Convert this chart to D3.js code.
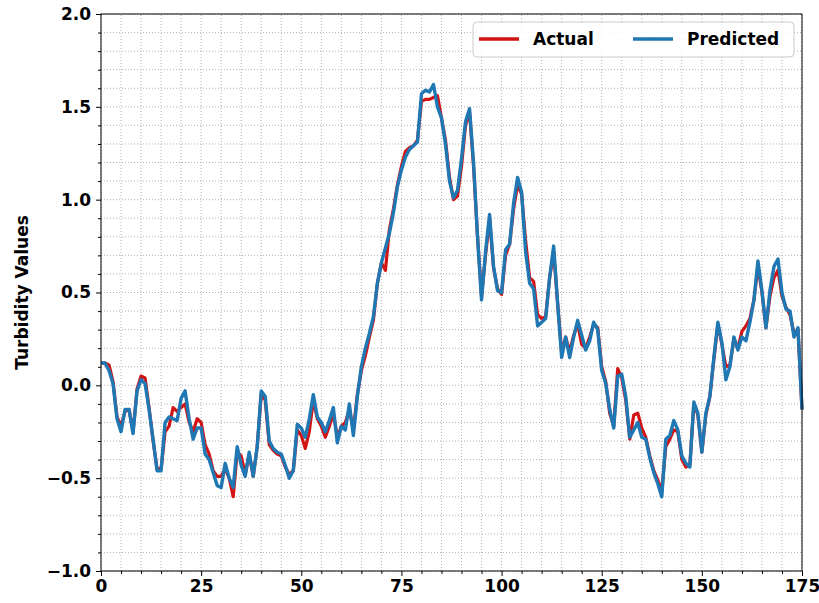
<!DOCTYPE html>
<html>
<head>
<meta charset="utf-8">
<script src="https://cdn.jsdelivr.net/npm/d3@7"></script>
<style>
  html, body { margin: 0; padding: 0; background: #fff; }
  svg { display: block; }
  text { font-family: "DejaVu Sans", sans-serif; font-weight: bold; }
</style>
</head>
<body>
<svg id="chart" width="819" height="603"></svg>
<script>
// Turbidity series: observed values and model predictions, one per time step (0..175)
const actual = [
  0.12, 0.12, 0.11, 0.02, -0.17, -0.22, -0.14, -0.13, -0.25, -0.02,
  0.05, 0.04, -0.12, -0.30, -0.45, -0.45, -0.25, -0.22, -0.12, -0.14,
  -0.12, -0.10, -0.20, -0.25, -0.18, -0.20, -0.32, -0.37, -0.46, -0.49,
  -0.49, -0.45, -0.50, -0.60, -0.36, -0.38, -0.48, -0.37, -0.49, -0.33,
  -0.05, -0.08, -0.32, -0.35, -0.37, -0.38, -0.44, -0.48, -0.46, -0.24,
  -0.27, -0.34, -0.25, -0.08, -0.18, -0.22, -0.28, -0.22, -0.15, -0.28,
  -0.22, -0.20, -0.13, -0.24, -0.05, 0.08, 0.16, 0.26, 0.35, 0.55,
  0.66, 0.62, 0.84, 0.95, 1.08, 1.18, 1.26, 1.28, 1.29, 1.32,
  1.53, 1.54, 1.54, 1.55, 1.56, 1.44, 1.32, 1.12, 1.00, 1.02,
  1.18, 1.40, 1.47, 1.18, 0.80, 0.48, 0.70, 0.90, 0.63, 0.52,
  0.49, 0.70, 0.76, 0.95, 1.08, 1.03, 0.78, 0.58, 0.56, 0.38,
  0.36, 0.37, 0.58, 0.72, 0.44, 0.18, 0.26, 0.18, 0.27, 0.33,
  0.22, 0.20, 0.26, 0.33, 0.31, 0.10, 0.02, -0.15, -0.22, 0.09,
  0.04, -0.08, -0.29, -0.16, -0.15, -0.23, -0.28, -0.38, -0.46, -0.51,
  -0.57, -0.33, -0.29, -0.24, -0.25, -0.40, -0.44, -0.43, -0.10, -0.16,
  -0.36, -0.16, -0.06, 0.14, 0.33, 0.22, 0.10, 0.11, 0.25, 0.20,
  0.29, 0.32, 0.36, 0.46, 0.64, 0.50, 0.31, 0.48, 0.58, 0.62,
  0.48, 0.42, 0.38, 0.28, 0.30, -0.13
];

const predicted = [
  0.12, 0.12, 0.08, 0.01, -0.18, -0.25, -0.13, -0.13, -0.26, -0.03,
  0.03, 0.01, -0.13, -0.29, -0.46, -0.46, -0.20, -0.17, -0.18, -0.19,
  -0.07, -0.03, -0.18, -0.29, -0.23, -0.23, -0.37, -0.40, -0.47, -0.54,
  -0.55, -0.42, -0.50, -0.55, -0.33, -0.43, -0.49, -0.36, -0.49, -0.33,
  -0.03, -0.06, -0.30, -0.34, -0.36, -0.37, -0.43, -0.50, -0.46, -0.21,
  -0.23, -0.28, -0.18, -0.05, -0.17, -0.20, -0.25, -0.19, -0.12, -0.31,
  -0.22, -0.24, -0.10, -0.27, -0.06, 0.10, 0.20, 0.28, 0.37, 0.55,
  0.66, 0.74, 0.82, 0.93, 1.07, 1.16, 1.23, 1.27, 1.29, 1.31,
  1.57, 1.59, 1.58, 1.62, 1.50, 1.44, 1.30, 1.10, 1.01, 1.05,
  1.22, 1.42, 1.49, 1.20, 0.80, 0.46, 0.72, 0.92, 0.64, 0.51,
  0.50, 0.73, 0.76, 0.98, 1.12, 1.04, 0.72, 0.55, 0.52, 0.32,
  0.34, 0.36, 0.58, 0.75, 0.44, 0.15, 0.26, 0.15, 0.26, 0.35,
  0.27, 0.19, 0.24, 0.34, 0.30, 0.08, 0.01, -0.13, -0.23, 0.05,
  0.06, -0.06, -0.28, -0.24, -0.20, -0.28, -0.29, -0.39, -0.47, -0.53,
  -0.60, -0.29, -0.27, -0.19, -0.24, -0.38, -0.42, -0.44, -0.09, -0.15,
  -0.36, -0.15, -0.06, 0.15, 0.34, 0.23, 0.03, 0.10, 0.26, 0.19,
  0.26, 0.24, 0.34, 0.46, 0.67, 0.51, 0.31, 0.51, 0.64, 0.68,
  0.50, 0.41, 0.40, 0.26, 0.31, -0.13
];

const xTicks = [0, 25, 50, 75, 100, 125, 150, 175];
const yTicks = [-1.0, -0.5, 0.0, 0.5, 1.0, 1.5, 2.0];
const seriesNames = ["Actual", "Predicted"];

const svg = d3.select("#chart");
const margin = { left: 101, right: 17, top: 14, bottom: 32 };
const W = 819, H = 603;

const x = d3.scaleLinear().domain([0, 175]).range([margin.left, W - margin.right]);
const y = d3.scaleLinear().domain([-1, 2]).range([H - margin.bottom, margin.top]);

const xMinor = d3.range(0, 175.001, 5);
const yMinor = d3.range(-10, 20.001, 1).map(d => d / 10);

// grid (major + minor), dotted
const grid = svg.append("g");
grid.selectAll("line.gx").data(xMinor).join("line")
  .attr("x1", d => x(d)).attr("x2", d => x(d))
  .attr("y1", y(-1)).attr("y2", y(2))
  .attr("stroke", "#aaaaaa").attr("stroke-width", 0.9)
  .attr("stroke-dasharray", "1,2");
grid.selectAll("line.gy").data(yMinor).join("line")
  .attr("y1", d => y(d)).attr("y2", d => y(d))
  .attr("x1", x(0)).attr("x2", x(175))
  .attr("stroke", "#aaaaaa").attr("stroke-width", 0.9)
  .attr("stroke-dasharray", "1,2");

// series lines
const line = d3.line().x((d, i) => x(i)).y(d => y(d));
svg.append("path").datum(actual)
  .attr("d", line).attr("fill", "none")
  .attr("stroke", "#d21414").attr("stroke-width", 3.2)
  .attr("stroke-linejoin", "round");
svg.append("path").datum(predicted)
  .attr("d", line).attr("fill", "none")
  .attr("stroke", "#1f77b4").attr("stroke-width", 3.4)
  .attr("stroke-linejoin", "round");

// axes
const fmt = d3.format(".1f");
const yAxis = svg.append("g").attr("transform", `translate(${x(0)},0)`)
  .call(d3.axisLeft(y).tickValues(yTicks).tickFormat(fmt).tickSize(5).tickPadding(5));
const yAxisMinor = svg.append("g").attr("transform", `translate(${x(0)},0)`)
  .call(d3.axisLeft(y).tickValues(yMinor.filter(v => Math.round(v * 10) % 5 !== 0)).tickFormat("").tickSize(3));
const xAxis = svg.append("g").attr("transform", `translate(0,${y(-1)})`)
  .call(d3.axisBottom(x).tickValues(xTicks).tickFormat(d3.format("d")).tickSize(5).tickPadding(4));
const xAxisMinor = svg.append("g").attr("transform", `translate(0,${y(-1)})`)
  .call(d3.axisBottom(x).tickValues(xMinor.filter(v => v % 25 !== 0)).tickFormat("").tickSize(3));

[yAxis, xAxis, yAxisMinor, xAxisMinor].forEach(g => {
  g.select(".domain").remove();
  g.selectAll(".tick line").attr("stroke", "#000").attr("stroke-width", 1);
  g.selectAll(".tick text").attr("fill", "#000")
    .style("font-size", "17px").style("font-weight", "bold")
    .style("font-family", "'DejaVu Sans', sans-serif");
});

// frame
svg.append("rect")
  .attr("x", x(0)).attr("y", y(2))
  .attr("width", x(175) - x(0)).attr("height", y(-1) - y(2))
  .attr("fill", "none").attr("stroke", "#000").attr("stroke-width", 1);

// y label
svg.append("text")
  .attr("transform", `translate(28,${(y(2) + y(-1)) / 2}) rotate(-90)`)
  .attr("text-anchor", "middle")
  .style("font-size", "17px")
  .text("Turbidity Values");

// legend
const leg = svg.append("g");
leg.append("rect")
  .attr("x", 473).attr("y", 22).attr("width", 321).attr("height", 35)
  .attr("rx", 4).attr("fill", "#fff").attr("fill-opacity", 0.85)
  .attr("stroke", "#cccccc").attr("stroke-width", 1);
const legItems = [
  { name: seriesNames[0], color: "#d21414", x0: 479, tx: 533 },
  { name: seriesNames[1], color: "#1f77b4", x0: 633, tx: 687 }
];
legItems.forEach(it => {
  leg.append("line")
    .attr("x1", it.x0).attr("x2", it.x0 + 40)
    .attr("y1", 39).attr("y2", 39)
    .attr("stroke", it.color).attr("stroke-width", 3.4);
  leg.append("text")
    .attr("x", it.tx).attr("y", 45)
    .style("font-size", "17px")
    .text(it.name);
});
</script>
</body>
</html>
